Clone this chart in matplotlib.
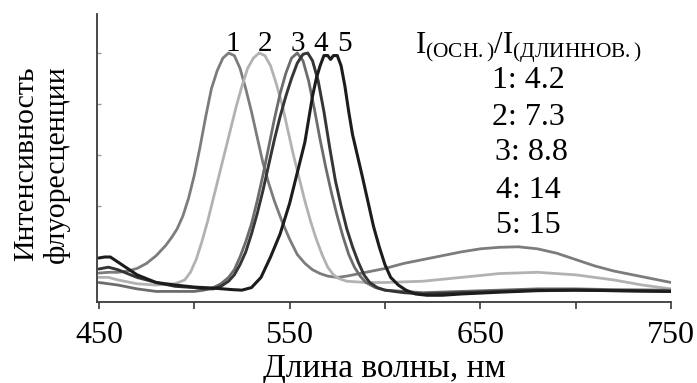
import matplotlib
matplotlib.use("Agg")
import matplotlib.pyplot as plt

plt.rcParams['font.family'] = ['Liberation Serif', 'DejaVu Serif']
plt.rcParams['mathtext.fontset'] = 'custom'
plt.rcParams['mathtext.rm'] = 'Liberation Serif'
plt.rcParams['mathtext.it'] = 'Liberation Serif:italic'

# Emission spectra (wavelength in nm, normalized intensity)
wl1 = [450, 455, 460, 465, 470, 475, 480, 485, 488, 491, 494, 497, 500, 503, 506,
       509, 512, 515, 518, 521, 524, 527, 530, 533, 536, 539, 542, 546, 550, 554,
       558, 562, 566, 570, 575, 580, 590, 600, 610, 620, 630, 640, 650, 660, 670,
       680, 690, 700, 710, 720, 730, 740, 750]
in1 = [0.137, 0.14, 0.14, 0.145, 0.155, 0.175, 0.205, 0.245, 0.275, 0.31, 0.36, 0.43, 0.52, 0.63, 0.75,
       0.86, 0.93, 0.98, 1.0, 0.99, 0.94, 0.86, 0.77, 0.67, 0.57, 0.49, 0.42, 0.34, 0.27, 0.21,
       0.175, 0.15, 0.135, 0.125, 0.12, 0.125, 0.14, 0.155, 0.175, 0.19, 0.205, 0.22, 0.232, 0.238, 0.24,
       0.232, 0.215, 0.19, 0.165, 0.145, 0.13, 0.115, 0.10]

wl2 = [450, 455, 460, 470, 480, 490, 495, 498, 501, 504, 507, 510, 513, 516, 519,
       522, 525, 528, 531, 534, 537, 540, 543, 546, 549, 552, 555, 558, 561, 564,
       567, 570, 573, 576, 580, 590, 600, 620, 640, 660, 680, 700, 720, 735, 750]
in2 = [0.12, 0.12, 0.11, 0.095, 0.09, 0.095, 0.11, 0.14, 0.19, 0.26, 0.34, 0.43, 0.52, 0.61, 0.70,
       0.79, 0.87, 0.94, 0.98, 1.0, 0.99, 0.95, 0.88, 0.80, 0.70, 0.60, 0.51, 0.42, 0.34, 0.27,
       0.21, 0.16, 0.13, 0.115, 0.105, 0.10, 0.10, 0.105, 0.12, 0.135, 0.14, 0.13, 0.11, 0.09, 0.075]

wl3 = [450, 460, 470, 480, 490, 500, 505, 510, 514, 518, 521, 524, 527, 530, 533,
       536, 539, 542, 545, 548, 551, 554, 557, 560, 563, 566, 569, 572, 575, 578,
       581, 584, 587, 590, 595, 600, 620, 640, 660, 680, 700, 720, 750]
in3 = [0.10, 0.09, 0.075, 0.065, 0.065, 0.065, 0.07, 0.08, 0.095, 0.12, 0.15, 0.20, 0.26, 0.33, 0.42,
       0.52, 0.63, 0.74, 0.84, 0.92, 0.98, 1.0, 0.97, 0.89, 0.78, 0.66, 0.55, 0.45, 0.36, 0.28,
       0.21, 0.16, 0.125, 0.10, 0.08, 0.07, 0.06, 0.065, 0.07, 0.075, 0.075, 0.072, 0.07]

wl4 = [450, 455, 460, 465, 470, 480, 490, 500, 505, 510, 514, 518, 521, 524, 527,
       530, 533, 536, 539, 542, 545, 548, 551, 554, 557, 559.5, 562, 565, 568, 571,
       574, 577, 580, 583, 586, 589, 592, 596, 600, 610, 620, 640, 660, 680, 700,
       720, 750]
in4 = [0.153, 0.16, 0.15, 0.135, 0.12, 0.10, 0.085, 0.08, 0.075, 0.075, 0.085, 0.105, 0.13, 0.17, 0.22,
       0.29, 0.37, 0.46, 0.56, 0.66, 0.75, 0.83, 0.90, 0.96, 0.995, 1.0, 0.97, 0.89, 0.77, 0.63,
       0.50, 0.40, 0.31, 0.24, 0.18, 0.13, 0.10, 0.08, 0.07, 0.06, 0.055, 0.06, 0.065, 0.07, 0.07,
       0.068, 0.065]

wl5 = [450, 453, 456, 460, 465, 470, 480, 490, 500, 510, 520, 525, 530, 535, 540,
       545, 550, 554, 558, 560, 562, 564, 566, 568, 570, 571.5, 573, 575, 577, 579,
       581, 583, 585.5, 588, 591, 594, 597, 600, 603, 607, 611, 616, 622, 630, 640,
       660, 680, 700, 720, 750]
in5 = [0.196, 0.20, 0.20, 0.18, 0.155, 0.13, 0.10, 0.09, 0.082, 0.078, 0.072, 0.07, 0.08, 0.12, 0.20,
       0.29, 0.41, 0.53, 0.65, 0.74, 0.83, 0.90, 0.95, 0.99, 0.99, 0.975, 0.99, 0.99, 0.95, 0.87,
       0.77, 0.68, 0.60, 0.52, 0.42, 0.32, 0.24, 0.17, 0.12, 0.09, 0.07, 0.055, 0.05, 0.05, 0.055,
       0.062, 0.068, 0.07, 0.068, 0.065]

curve_labels = ["1", "2", "3", "4", "5"]
label_wl = [520, 537, 554.5, 566.5, 579]
ratio_values = ["4.2", "7.3", "8.8", "14", "15"]

series = [(wl1, in1), (wl2, in2), (wl3, in3), (wl4, in4), (wl5, in5)]
colors = ["#7c7c7c", "#b2b2b2", "#6c6c6c", "#353535", "#1c1c1c"]
widths = [2.0, 2.0, 2.0, 2.1, 2.2]

fig = plt.figure(figsize=(6.97, 3.83), dpi=100)
ax = fig.add_axes([97 / 697, 81 / 383, 574 / 697, 288 / 383])

for (wl, inten), c, lw in zip(series, colors, widths):
    ax.plot(wl, inten, color=c, lw=lw, solid_capstyle="round", solid_joinstyle="round")

ax.set_xlim(449, 750)
ax.set_ylim(0.0235, 1.153)

ax.spines["top"].set_visible(False)
ax.spines["right"].set_visible(False)
for s in ("left", "bottom"):
    ax.spines[s].set_color("#3a3a3a")
    ax.spines[s].set_linewidth(1.3)

ax.set_xticks([450, 550, 650, 750])
ax.set_xticklabels(["450", "550", "650", "750"])
ax.set_xticks([500, 600, 700], minor=True)
ax.tick_params(axis="x", which="both", direction="out", length=5, width=1.2,
               color="#3a3a3a", labelsize=23, pad=9)
ax.set_yticks([0.2, 0.4, 0.6, 0.8, 1.0])
ax.set_yticklabels([])
ax.tick_params(axis="y", direction="in", length=3, width=1.0, color="#9a9a9a")

# Curve numbers above the peaks
for lab, x in zip(curve_labels, label_wl):
    ax.text(x, 1.008, lab, fontsize=21, ha="center", va="baseline", color="black")

# Intensity ratio block
ax.text(675, 1.0, r"$\mathrm{I}_{\mathrm{(ОСН.)}}/\mathrm{I}_{\mathrm{(ДЛИННОВ.)}}$",
        fontsize=22, ha="center", va="baseline", color="black")
ratio_y = [0.894, 0.749, 0.608, 0.459, 0.322]
ratio_x = [675, 675, 677, 675, 675]
for lab, val, x, y in zip(curve_labels, ratio_values, ratio_x, ratio_y):
    ax.text(x, y, f"{lab}: {val}", fontsize=23, ha="center", va="center", color="black")

fig.text(384 / 697, 1 - 369 / 383, "Длина волны, нм", fontsize=24,
         ha="center", va="center")
fig.text(41.5 / 697, 1 - 164 / 383, "Интенсивность\nфлуоресценции", fontsize=21.5,
         ha="center", va="center", rotation=90, linespacing=1.2)

fig.savefig("out.png", dpi=100, facecolor="white")
